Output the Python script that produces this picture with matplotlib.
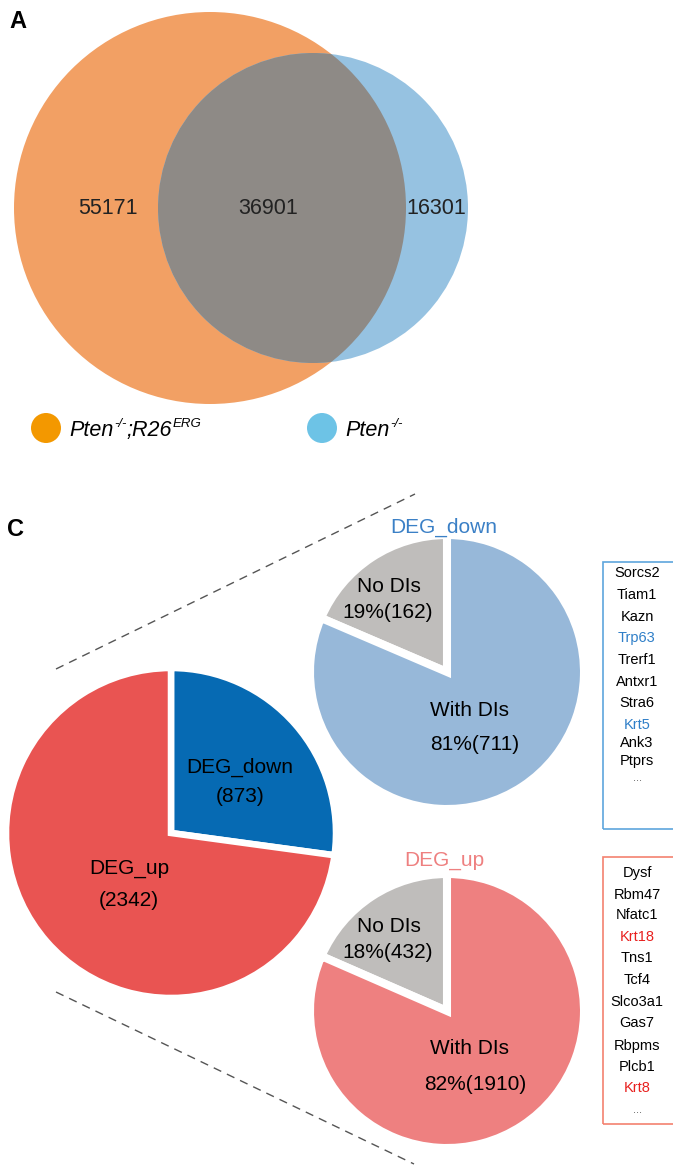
import numpy as np
import matplotlib.pyplot as plt
from matplotlib.patches import Circle, Rectangle

plt.rcParams['font.family'] = ['Liberation Sans', 'DejaVu Sans']

W, H = 673, 1165

# panel A - venn
# legend labels as (text, is_superscript) pieces
venn_sets = [[('Pten', False), ('-/-', True), (';R26', False), ('ERG', True)],
             [('Pten', False), ('-/-', True)]]
venn_colors = ['#F2A064', '#96C2E1']
dot_colors = ['#F39800', '#6DC3E6']
overlap_color = '#8E8A86'
venn_counts = [55171, 36901, 16301]  # only first, both, only second

# panel C - pies
deg_names = ['DEG_down', 'DEG_up']
deg_counts = [873, 2342]
deg_colors = ['#066AB3', '#E95452']
di_names = ['No DIs', 'With DIs']
down_di = [162, 711]
up_di = [432, 1910]
down_colors = ['#BFBDBB', '#97B8D9']
up_colors = ['#BFBDBB', '#EE8080']

down_genes = ['Sorcs2', 'Tiam1', 'Kazn', 'Trp63', 'Trerf1', 'Antxr1', 'Stra6',
              'Krt5', 'Ank3', 'Ptprs', '...']
down_marked = ['Trp63', 'Krt5']
up_genes = ['Dysf', 'Rbm47', 'Nfatc1', 'Krt18', 'Tns1', 'Tcf4', 'Slco3a1',
            'Gas7', 'Rbpms', 'Plcb1', 'Krt8', '...']
up_marked = ['Krt18', 'Krt8']


def Y(y):
    # pixel row (from top) -> data y
    return H - y


fig = plt.figure(figsize=(W / 100, H / 100), dpi=100)
ax = fig.add_axes([0, 0, 1, 1])

# ---- A
c1 = Circle((210, Y(208)), 196, fc=venn_colors[0], ec='none')
c2 = Circle((313, Y(208)), 155, fc=venn_colors[1], ec='none')
ax.add_patch(c1)
ax.add_patch(c2)
c3 = Circle((313, Y(208)), 155, fc=overlap_color, ec='none')
ax.add_patch(c3)
c3.set_clip_path(c1)

for x, n in zip([108, 268, 436], venn_counts):
    ax.text(x, Y(209), str(n), fontsize=15.5, ha='center', va='center', color='#222222')

for (x, tx), pieces, col in zip([(46, 69), (322, 345)], venn_sets, dot_colors):
    ax.add_patch(Circle((x, Y(428)), 15, fc=col, ec='none'))
    base = ax.text(tx, Y(441), pieces[0][0], fontsize=15.5, style='italic',
                   ha='left', va='bottom')
    prev = base
    for s, sup in pieces[1:]:
        if sup:
            prev = ax.annotate(s, xy=(1, 0), xycoords=(prev, base),
                               xytext=(0.5, 8), textcoords='offset points',
                               fontsize=9.5, style='italic', ha='left', va='bottom')
        else:
            prev = ax.annotate(s, xy=(1, 0), xycoords=(prev, base),
                               fontsize=15.5, style='italic', ha='left', va='bottom')

ax.text(9, Y(10), 'A', fontsize=17, fontweight='bold', ha='left', va='top')
ax.text(7, Y(518), 'C', fontsize=17, fontweight='bold', ha='left', va='top')

# ---- C main pie
ax.pie(deg_counts, colors=deg_colors, center=(171, Y(833)), radius=165,
       startangle=90, counterclock=False,
       wedgeprops=dict(edgecolor='white', linewidth=4.7))
ax.text(240, Y(767), deg_names[0], fontsize=15, ha='center', va='center')
ax.text(240, Y(796), '(%d)' % deg_counts[0], fontsize=15, ha='center', va='center')
ax.text(129, Y(868), deg_names[1], fontsize=15, ha='center', va='center')
ax.text(129, Y(900), '(%d)' % deg_counts[1], fontsize=15, ha='center', va='center')

# dashed zoom lines
ax.plot([56, 415], [Y(669), Y(494)], color='#555555', lw=1, ls=(0, (6, 4.5)))
ax.plot([56, 414], [Y(992), Y(1164)], color='#555555', lw=1, ls=(0, (6, 4.5)))

# ---- small pies
for counts, cols, cy, title, tcol, ty in [
        (down_di, down_colors, 672, deg_names[0], '#3B80C6', 527),
        (up_di, up_colors, 1011, deg_names[1], '#EE8080', 861)]:
    ax.pie(counts, colors=cols, center=(447, Y(cy)), radius=137,
           startangle=90, wedgeprops=dict(edgecolor='white', linewidth=5.8))
    tot = sum(counts)
    ax.text(444, Y(ty), title, fontsize=15, color=tcol, ha='center', va='center')
    ax.text(389, Y(cy - 85), di_names[0], fontsize=15, ha='center', va='center')
    ax.text(388, Y(cy - 59), '%d%%(%d)' % (round(100 * counts[0] / tot), counts[0]),
            fontsize=15, ha='center', va='center')
    ax.text(469, Y(cy + 38), di_names[1], fontsize=15, ha='center', va='center')
    ax.text(475, Y(cy + 73), '%d%%(%d)' % (round(100 * counts[1] / tot), counts[1]),
            fontsize=15, ha='center', va='center')

# ---- gene boxes
ax.add_patch(Rectangle((603, Y(829)), 120, 267, fc='none', ec='#5DA5DD', lw=1.2))
ax.add_patch(Rectangle((603, Y(1124)), 120, 267, fc='none', ec='#F4826F', lw=1.2))

down_y = [573, 595, 617, 638, 660, 682, 703, 725, 743, 761, 778]
up_y = [873, 895, 915, 937, 958, 980, 1002, 1023, 1046, 1067, 1088, 1110]
lists = [(down_genes, down_y, down_marked, '#2F7FC8'),
         (up_genes, up_y, up_marked, '#E8201E')]
for genes, ys, marked, mcol in lists:
    for g, y in zip(genes, ys):
        if g == '...':
            ax.text(637, Y(y), g, fontsize=8, color='#555555', ha='center', va='center')
        else:
            col = mcol if g in marked else 'black'
            ax.text(637, Y(y), g, fontsize=10.5, color=col, ha='center', va='center')

ax.set_xlim(0, W)
ax.set_ylim(0, H)
ax.set_aspect('auto')
ax.axis('off')

fig.savefig('out.png', dpi=100)
